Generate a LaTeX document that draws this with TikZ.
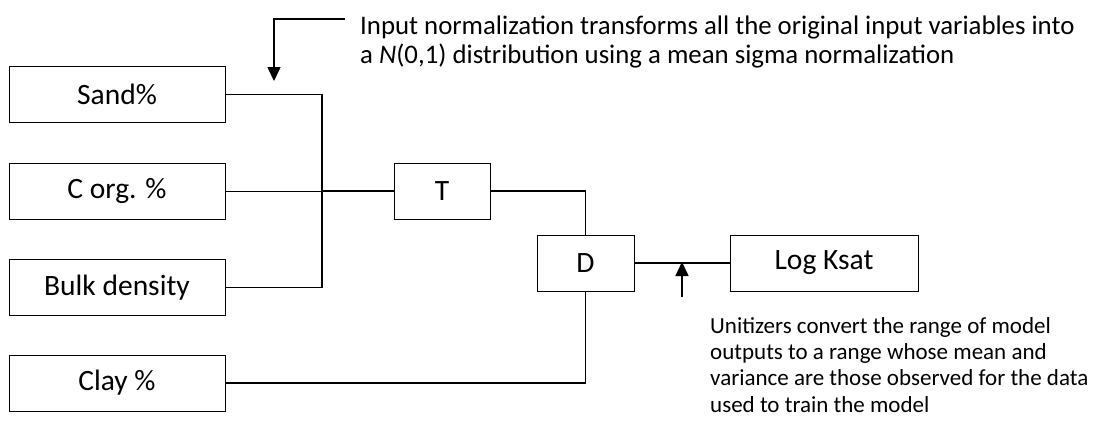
\documentclass[tikz,border=0pt]{standalone}
\usepackage{fontspec}
\setmainfont{Carlito}
\usetikzlibrary{arrows.meta}
\begin{document}
\begin{tikzpicture}[x=1pt,y=-1pt,
  hv/.style={to path={-| (\tikztotarget)}},
  vh/.style={to path={|- (\tikztotarget)}},
  note/.style={anchor=base west,align=left,inner sep=0pt},
  pointer/.style={line width=1.6pt,-{Triangle[length=14pt,width=13pt]}}]
  \useasboundingbox (0,0) rectangle (1096,432);
  \begin{scope}[every node/.style={draw,line width=1pt,minimum height=56pt,inner sep=0pt,font=\fontsize{29.5}{35}\selectfont}]
  \node[minimum width=216pt] (sand) at (117,94.5) {Sand\%};
  \node[minimum width=216pt] (corg) at (117,191) {C org. \%};
  \node[minimum width=216pt] (bulk) at (117,287.5) {Bulk density};
  \node[minimum width=216pt] (clay) at (117,383) {Clay \%};
  \node[minimum width=96pt] (t) at (442,191) {T};
  \node[minimum width=97pt] (d) at (585.5,263) {D};
  \node[minimum width=188pt] (ksat) at (824,263) {Log Ksat};
  \end{scope}
  \coordinate (jn) at (322,191);
  \begin{scope}[every edge/.style={draw=black,line width=1.3pt}]
  \path (sand.east) edge[hv,line width=1pt] (jn);
  \path (jn) edge[vh,line width=1.6pt] (bulk.east);
  \path (corg.east) edge[line width=1pt] (jn);
  \path (jn) edge[line width=1.6pt] (t.west);
  \path (t.east) edge[hv] (d.north);
  \path (clay.east) edge[hv,line width=1.6pt] (d.south);
  \path (d.east) edge[line width=1.8pt] (ksat.west);
  \end{scope}
  \draw[line width=2.2pt] (sand.east -| jn) -- (bulk.east -| jn);
  % annotations
  \node[note,font=\fontsize{26.8}{28.5}\selectfont] (normtext) at (360,63) {Input normalization transforms all the original input variables into\\a \textit{N}(0,1) distribution using a mean sigma normalization};
  \node[note,font=\fontsize{23}{26.3}\selectfont] (unittext) at (710,412) {Unitizers convert the range of model\\outputs to a range whose mean and\\variance are those observed for the data\\used to train the model};
  \coordinate (nstart) at (345,19);
  \coordinate (ntip) at (274,81);
  \coordinate (ustart) at (682,297);
  \coordinate (utip) at (682,262);
  \draw[pointer] (nstart) -| (ntip);
  \draw[pointer] (ustart) -- (utip);
\end{tikzpicture}
\end{document}
